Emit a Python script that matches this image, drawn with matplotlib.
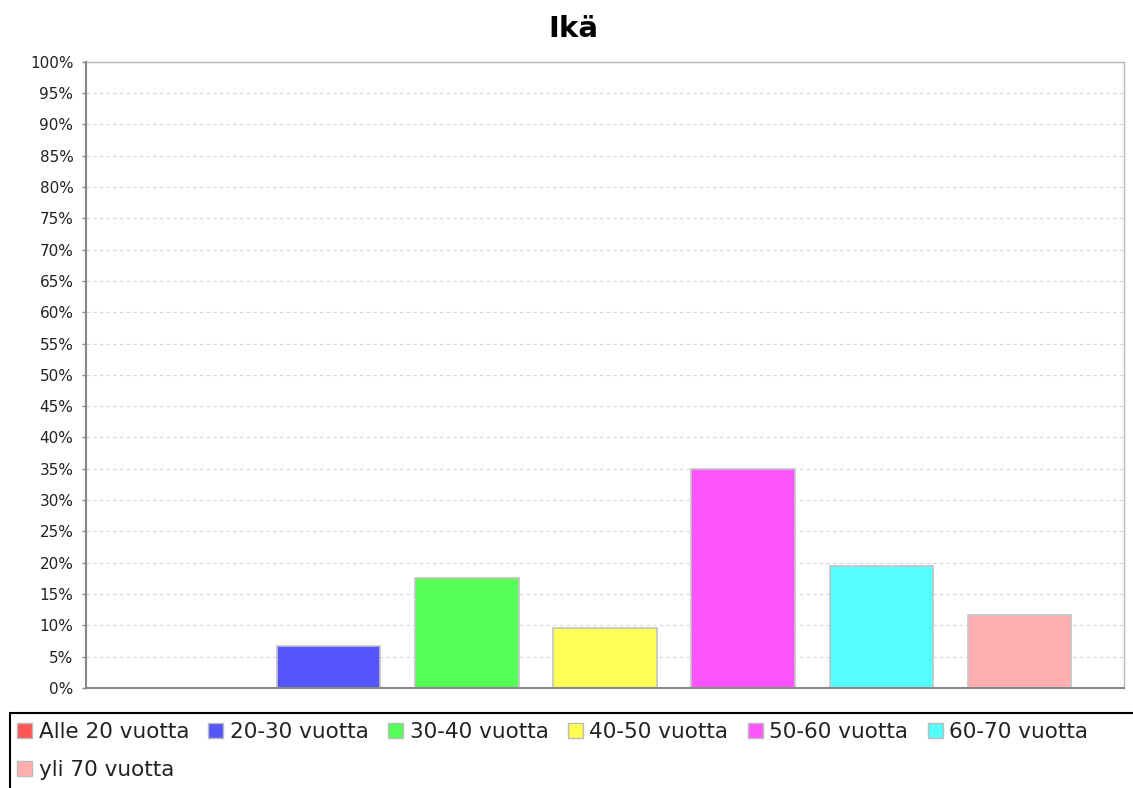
import matplotlib
matplotlib.use("Agg")
import matplotlib.pyplot as plt
from matplotlib.patches import Patch, Rectangle
from matplotlib.ticker import PercentFormatter, MultipleLocator

categories = ["Alle 20 vuotta", "20-30 vuotta", "30-40 vuotta", "40-50 vuotta",
              "50-60 vuotta", "60-70 vuotta", "yli 70 vuotta"]
values = [0.0, 6.7, 17.6, 9.6, 34.9, 19.4, 11.6]
colors = ["#FF5555", "#5555FF", "#55FF55", "#FFFF55", "#FF55FF", "#55FFFF", "#FFAFAF"]
title = "Ikä"

W, H = 1133, 788
fig = plt.figure(figsize=(W / 100, H / 100), dpi=100)
ax = fig.add_axes([86 / W, (H - 688) / H, (1124 - 86) / W, (688 - 61.7) / H])

x = list(range(len(categories)))
ax.bar(x, values, width=0.75, color=colors, edgecolor="#c4c4c4", linewidth=1.2, zorder=2)

ax.set_xlim(-0.755, len(categories) - 1 + 0.755)
ax.set_ylim(0, 100)
ax.yaxis.set_major_locator(MultipleLocator(5))
ax.yaxis.set_major_formatter(PercentFormatter(decimals=0))
ax.set_xticks([])
ax.tick_params(axis="y", length=3, width=1, color="#888888", labelsize=11, pad=6,
               labelcolor="#222222")
ax.grid(axis="y", color="#d6d6d6", linestyle=(0, (3, 3)), linewidth=0.8, zorder=0)
for s in ["left", "bottom"]:
    ax.spines[s].set_color("#888888")
    ax.spines[s].set_linewidth(1.5)
    ax.spines[s].set_zorder(3)
for s in ["top", "right"]:
    ax.spines[s].set_color("#b8b8b8")
    ax.spines[s].set_linewidth(1.0)

fig.text(573 / W, 1 - 29 / H, title, ha="center", va="center", fontsize=21, fontweight="bold")

# legend frame (extends beyond figure edges)
fig.patches.append(Rectangle((10 / W, -0.05), 1.2, (H - 713) / H + 0.05,
                             transform=fig.transFigure, fill=False,
                             edgecolor="black", linewidth=1.5))

handles = [Patch(facecolor=c, edgecolor="#bbbbbb", linewidth=1) for c in colors]
order = [0, 6, 1, 2, 3, 4, 5]
leg = fig.legend([handles[i] for i in order], [categories[i] for i in order],
                 ncol=6, loc="upper left", bbox_to_anchor=(17 / W, 1 - 722 / H),
                 frameon=False, fontsize=15.5, handlelength=0.7, handleheight=0.7,
                 handletextpad=0.3, columnspacing=0.9, labelspacing=0.85,
                 borderaxespad=0, borderpad=0)
for t in leg.get_texts():
    t.set_color("#222222")

fig.savefig("out.png", dpi=100)
